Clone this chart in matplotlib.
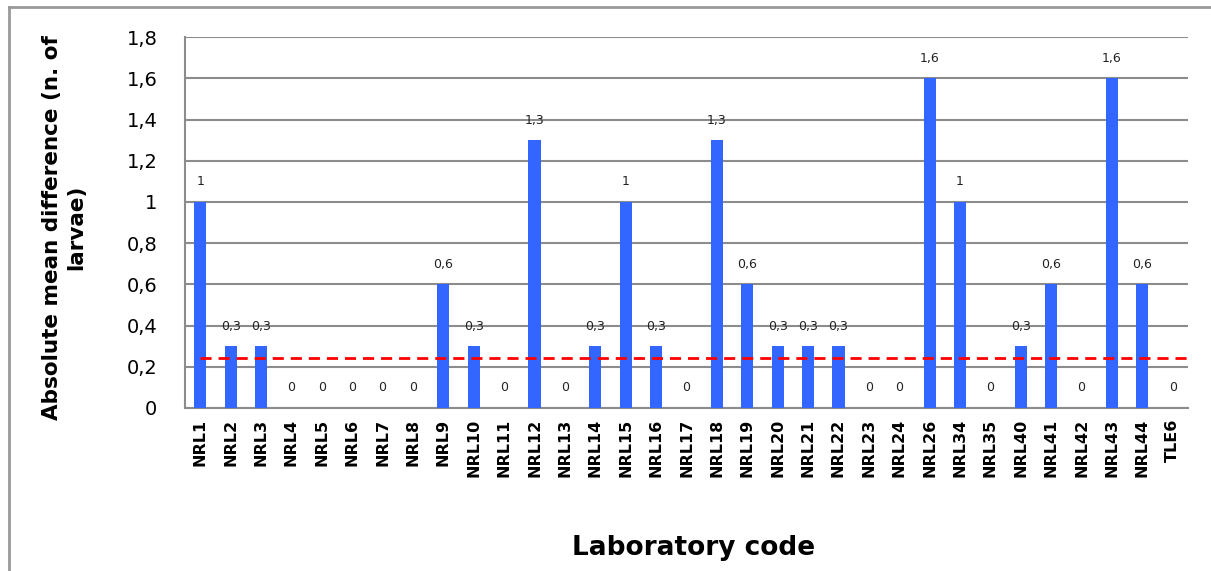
import numpy as np
import matplotlib.pyplot as plt
from matplotlib.lines import Line2D

# Datos del grafico
labs = ['NRL1', 'NRL2', 'NRL3', 'NRL4', 'NRL5', 'NRL6', 'NRL7', 'NRL8', 'NRL9',
        'NRL10', 'NRL11', 'NRL12', 'NRL13', 'NRL14', 'NRL15', 'NRL16', 'NRL17',
        'NRL18', 'NRL19', 'NRL20', 'NRL21', 'NRL22', 'NRL23', 'NRL24', 'NRL26',
        'NRL34', 'NRL35', 'NRL40', 'NRL41', 'NRL42', 'NRL43', 'NRL44', 'TLE6']
diffs = [1, 0.3, 0.3, 0, 0, 0, 0, 0, 0.6, 0.3, 0, 1.3, 0, 0.3, 1, 0.3, 0,
         1.3, 0.6, 0.3, 0.3, 0.3, 0, 0, 1.6, 1, 0, 0.3, 0.6, 0, 1.6, 0.6, 0]
limite = 0.245
yticks = [0, 0.2, 0.4, 0.6, 0.8, 1.0, 1.2, 1.4, 1.6, 1.8]

fig = plt.figure(figsize=(12.11, 5.71), dpi=100)
ax = fig.add_axes([0.1528, 0.2855, 0.8282, 0.6495])

x = np.arange(len(labs))
ax.bar(x, diffs, width=0.4, color='#3366ff', zorder=3)

# etiquetas de valor sobre cada barra
for xi, v in zip(x, diffs):
    txt = ('%g' % v).replace('.', ',')
    ax.annotate(txt, (xi, v), xytext=(0, 20), textcoords='offset pixels',
                ha='center', va='center', fontsize=9, color='#222222')

# linea roja discontinua
ax.plot([0, len(labs) - 0.5], [limite, limite], color='#ff0000',
        linestyle=(0, (4, 2.5)), linewidth=2, zorder=4)

ax.set_xlim(-0.5, len(labs) - 0.5)
ax.set_ylim(0, 1.8)
ax.set_yticks(yticks)
ax.set_yticklabels([('%g' % t).replace('.', ',') for t in yticks], fontsize=14)
ax.set_xticks(x)
ax.set_xticklabels(labs, rotation=90, fontsize=11.5, fontweight='bold')
ax.tick_params(axis='both', length=0, pad=8)
ax.tick_params(axis='y', pad=20)

ax.grid(True, axis='y', color='#8c8c8c', linewidth=1.5, zorder=0)
for s in ['top', 'right']:
    ax.spines[s].set_visible(False)
for s in ['left', 'bottom']:
    ax.spines[s].set_color('#8c8c8c')
    ax.spines[s].set_linewidth(1.5)

fig.text(0.053, 0.602, 'Absolute mean difference (n. of\nlarvae)', rotation=90,
         ha='center', va='center', fontsize=15.5, fontweight='bold',
         linespacing=1.25)
fig.text(0.573, 0.04, 'Laboratory code', ha='center', va='center',
         fontsize=19, fontweight='bold')

# borde exterior (solo izquierda y arriba visibles)
fig.add_artist(Line2D([0.0075, 0.0075], [0, 0.988], color='#999999', linewidth=2,
                      transform=fig.transFigure))
fig.add_artist(Line2D([0.0075, 1.0], [0.988, 0.988], color='#999999', linewidth=2,
                      transform=fig.transFigure))

fig.savefig('out.png', dpi=100)
